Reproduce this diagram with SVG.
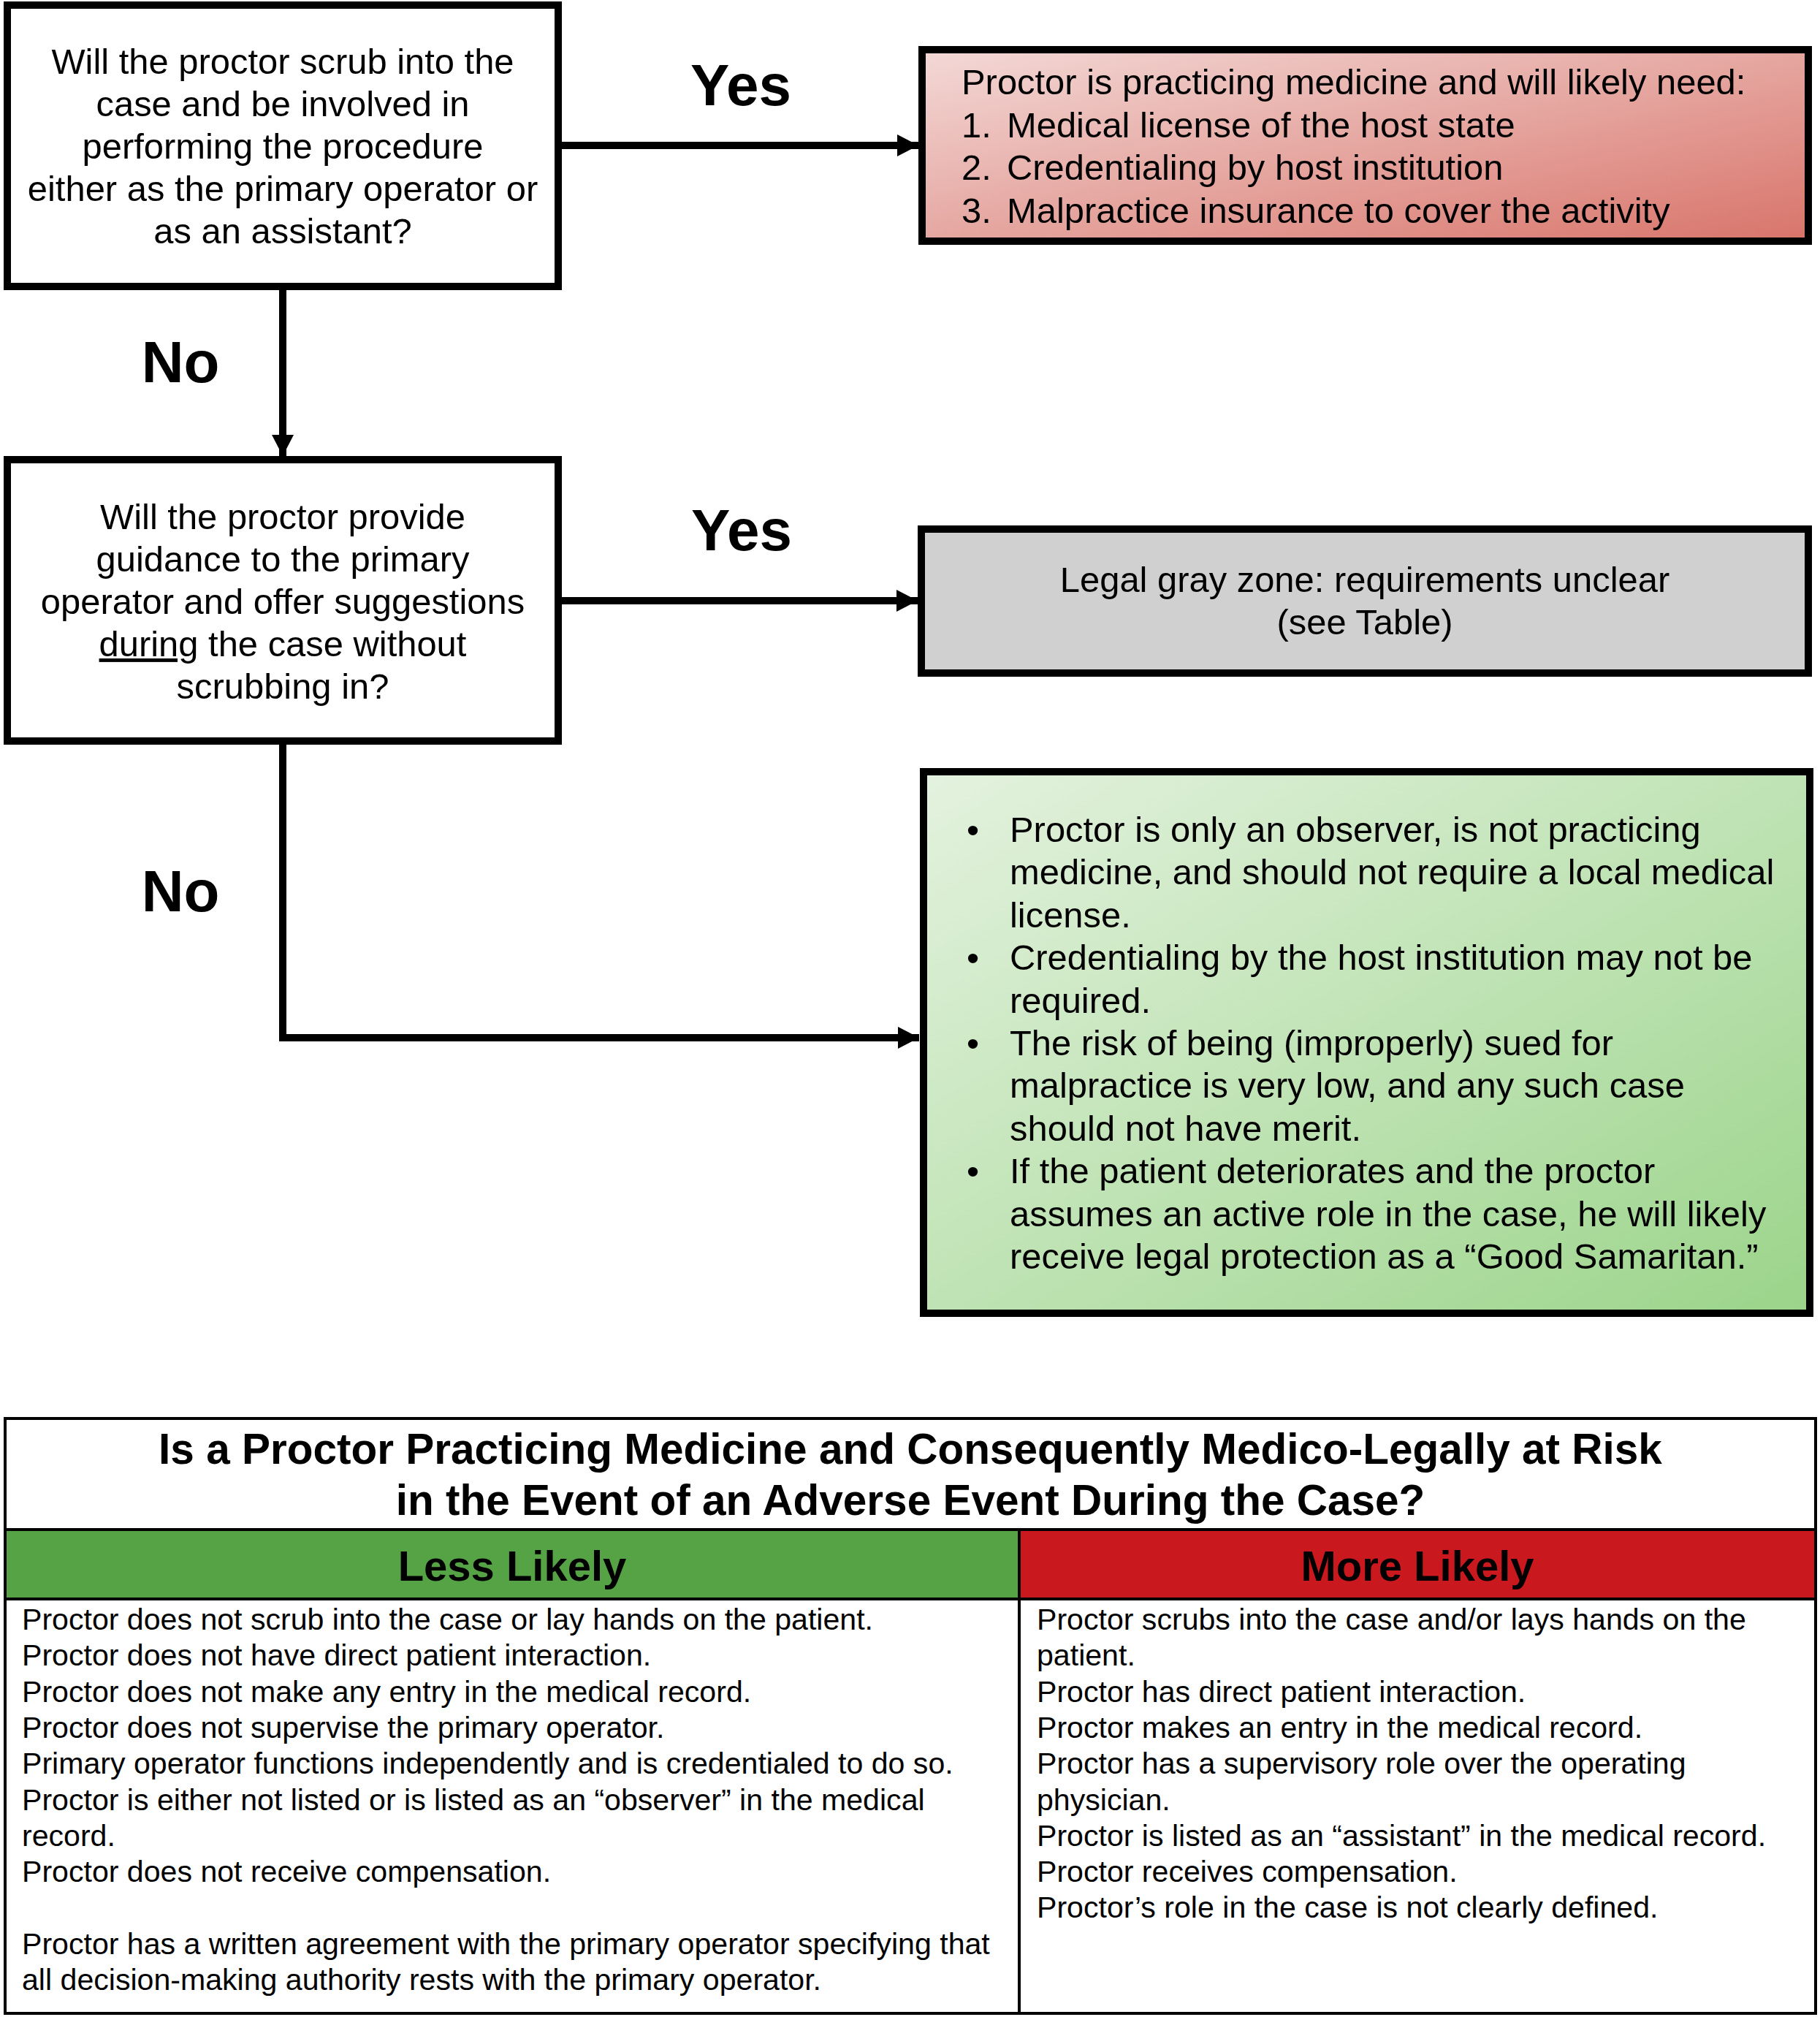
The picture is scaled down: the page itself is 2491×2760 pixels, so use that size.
<svg xmlns="http://www.w3.org/2000/svg" width="2491" height="2760" viewBox="0 0 2491 2760">
<style>
text{font-family:"Liberation Sans",Arial,sans-serif;fill:#000}
.q{font-size:48.9px;text-anchor:middle}
.b{font-size:48.9px}
.lbl{font-size:80px;font-weight:bold;text-anchor:middle}
.box{stroke:#000;stroke-width:10}
.conn{fill:none;stroke:#000;stroke-width:10}
.tb{fill:none;stroke:#000;stroke-width:4}
.title{font-size:58.5px;font-weight:bold;text-anchor:middle}
.hd{font-size:58px;font-weight:bold;text-anchor:middle}
.cell{font-size:41.1px}
</style>
<defs>
<linearGradient id="gRed" x1="0" y1="0" x2="1" y2="1">
<stop offset="0" stop-color="#f3d9d7"/>
<stop offset="1" stop-color="#d8746a"/>
</linearGradient>
<linearGradient id="gGreen" x1="0" y1="0" x2="1" y2="1">
<stop offset="0" stop-color="#e4f2df"/>
<stop offset="1" stop-color="#9bd48a"/>
</linearGradient>
<marker id="arr" markerUnits="userSpaceOnUse" markerWidth="30" markerHeight="30" refX="29" refY="15" orient="auto">
<path d="M0,0 L29,15 L0,30 Z" fill="#000"/>
</marker>
</defs>

<g id="connectors">
<line class="conn" x1="769" y1="199" x2="1257" y2="199" marker-end="url(#arr)"/>
<line class="conn" x1="387" y1="392" x2="387" y2="624" marker-end="url(#arr)"/>
<line class="conn" x1="769" y1="822" x2="1256" y2="822" marker-end="url(#arr)"/>
<path class="conn" d="M387,1014 V1420 H1258" marker-end="url(#arr)"/>
<text class="lbl" x="1014" y="144">Yes</text>
<text class="lbl" x="1015" y="753">Yes</text>
<text class="lbl" x="247" y="523">No</text>
<text class="lbl" x="247" y="1247">No</text>
</g>

<g id="q1">
<rect class="box" x="10" y="7" width="754" height="385" fill="#fff"/>
<text class="q" x="387" y="101">Will the proctor scrub into the</text>
<text class="q" x="387" y="159">case and be involved in</text>
<text class="q" x="387" y="217">performing the procedure</text>
<text class="q" x="387" y="275">either as the primary operator or</text>
<text class="q" x="387" y="333">as an assistant?</text>
</g>

<g id="q2">
<rect class="box" x="10" y="629" width="754" height="385" fill="#fff"/>
<text class="q" x="387" y="724">Will the proctor provide</text>
<text class="q" x="387" y="782">guidance to the primary</text>
<text class="q" x="387" y="840">operator and offer suggestions</text>
<text class="q" x="387" y="898"><tspan style="text-decoration:underline">during</tspan> the case without</text>
<text class="q" x="387" y="956">scrubbing in?</text>
</g>

<g id="practicing">
<rect class="box" x="1262" y="68" width="1213" height="262" fill="url(#gRed)"/>
<text class="b" x="1316" y="129">Proctor is practicing medicine and will likely need:</text>
<text class="b" y="187.5"><tspan x="1316">1.</tspan><tspan x="1378">Medical license of the host state</tspan></text>
<text class="b" y="246"><tspan x="1316">2.</tspan><tspan x="1378">Credentialing by host institution</tspan></text>
<text class="b" y="304.5"><tspan x="1316">3.</tspan><tspan x="1378">Malpractice insurance to cover the activity</tspan></text>
</g>

<g id="grayzone">
<rect class="box" x="1261" y="724" width="1214" height="197" fill="#d0d0d0"/>
<text class="q" x="1868" y="810">Legal gray zone: requirements unclear</text>
<text class="q" x="1868" y="868">(see Table)</text>
</g>

<g id="observer">
<rect class="box" x="1264" y="1056" width="1213" height="741" fill="url(#gGreen)"/>
<text class="b" x="1323" y="1152">•</text>
<text class="b" x="1382" y="1152">Proctor is only an observer, is not practicing</text>
<text class="b" x="1382" y="1210.4">medicine, and should not require a local medical</text>
<text class="b" x="1382" y="1268.8">license.</text>
<text class="b" x="1323" y="1327.2">•</text>
<text class="b" x="1382" y="1327.2">Credentialing by the host institution may not be</text>
<text class="b" x="1382" y="1385.6">required.</text>
<text class="b" x="1323" y="1444">•</text>
<text class="b" x="1382" y="1444">The risk of being (improperly) sued for</text>
<text class="b" x="1382" y="1502.4">malpractice is very low, and any such case</text>
<text class="b" x="1382" y="1560.8">should not have merit.</text>
<text class="b" x="1323" y="1619.2">•</text>
<text class="b" x="1382" y="1619.2">If the patient deteriorates and the proctor</text>
<text class="b" x="1382" y="1677.6">assumes an active role in the case, he will likely</text>
<text class="b" x="1382" y="1736">receive legal protection as a “Good Samaritan.”</text>
</g>

<g id="table">
<rect x="1395" y="2093" width="1090" height="95" fill="#c9191e"/>
<rect x="7" y="2093" width="1388" height="95" fill="#56a346"/>
<rect class="tb" x="7" y="1941" width="2478" height="814"/>
<line class="tb" x1="7" y1="2093" x2="2485" y2="2093"/>
<line class="tb" x1="7" y1="2188" x2="2485" y2="2188"/>
<line class="tb" x1="1395" y1="2093" x2="1395" y2="2755"/>
<text class="title" x="1246" y="2003">Is a Proctor Practicing Medicine and Consequently Medico-Legally at Risk</text>
<text class="title" x="1246" y="2073">in the Event of an Adverse Event During the Case?</text>
<text class="hd" x="701" y="2163">Less Likely</text>
<text class="hd" x="1940" y="2163">More Likely</text>
<text class="cell" x="30" y="2230">Proctor does not scrub into the case or lay hands on the patient.</text>
<text class="cell" x="30" y="2279.3">Proctor does not have direct patient interaction.</text>
<text class="cell" x="30" y="2328.6">Proctor does not make any entry in the medical record.</text>
<text class="cell" x="30" y="2377.9">Proctor does not supervise the primary operator.</text>
<text class="cell" x="30" y="2427.2">Primary operator functions independently and is credentialed to do so.</text>
<text class="cell" x="30" y="2476.5">Proctor is either not listed or is listed as an “observer” in the medical</text>
<text class="cell" x="30" y="2525.8">record.</text>
<text class="cell" x="30" y="2575.1">Proctor does not receive compensation.</text>
<text class="cell" x="30" y="2673.7">Proctor has a written agreement with the primary operator specifying that</text>
<text class="cell" x="30" y="2723">all decision-making authority rests with the primary operator.</text>
<text class="cell" x="1419" y="2230">Proctor scrubs into the case and/or lays hands on the</text>
<text class="cell" x="1419" y="2279.3">patient.</text>
<text class="cell" x="1419" y="2328.6">Proctor has direct patient interaction.</text>
<text class="cell" x="1419" y="2377.9">Proctor makes an entry in the medical record.</text>
<text class="cell" x="1419" y="2427.2">Proctor has a supervisory role over the operating</text>
<text class="cell" x="1419" y="2476.5">physician.</text>
<text class="cell" x="1419" y="2525.8">Proctor is listed as an “assistant” in the medical record.</text>
<text class="cell" x="1419" y="2575.1">Proctor receives compensation.</text>
<text class="cell" x="1419" y="2624.4">Proctor’s role in the case is not clearly defined.</text>
</g>
</svg>
